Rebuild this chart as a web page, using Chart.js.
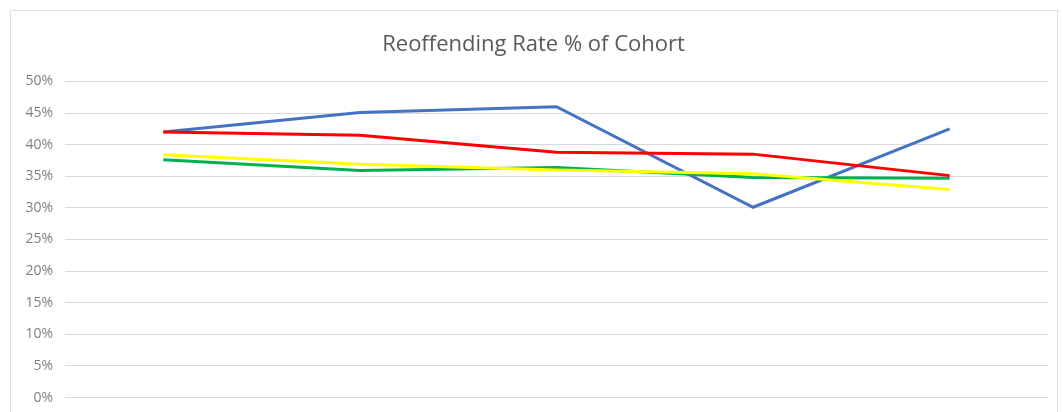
<!DOCTYPE html>
<html lang="en">
<head>
    <meta charset="UTF-8">
    <title>Reoffending Rate % of Cohort</title>
    <script src="https://cdn.jsdelivr.net/npm/chart.js"></script>
    <style>
        html, body { margin: 0; padding: 0; background: #fff; overflow: hidden; }
        #frame {
            position: absolute; left: 10px; top: 10px;
            width: 1048px; height: 430px;
            border: 1px solid #e0e0e0; box-sizing: border-box; background: #fff;
        }
        #chart { position: absolute; left: 0; top: 0; }
    </style>
</head>
<body>
<div id="frame">
    <canvas id="chart" width="1046" height="407"></canvas>
</div>
<script>
    // five cohorts, values in percent
    const cohorts = ['Cohort 1', 'Cohort 2', 'Cohort 3', 'Cohort 4', 'Cohort 5'];
    const blueSeries   = [42.0, 45.1, 46.0, 30.1, 42.5];
    const redSeries    = [42.0, 41.5, 38.8, 38.5, 35.1];
    const greenSeries  = [37.6, 35.9, 36.4, 34.8, 34.7];
    const yellowSeries = [38.4, 36.9, 36.0, 35.4, 32.9];
    const yTicks = [0, 5, 10, 15, 20, 25, 30, 35, 40, 45, 50];

    const line = (data, color, order) => ({
        data: data,
        borderColor: color,
        backgroundColor: color,
        borderWidth: 3,
        pointRadius: 0,
        tension: 0,
        fill: false,
        order: order
    });

    new Chart(document.getElementById('chart'), {
        type: 'line',
        data: {
            labels: cohorts,
            datasets: [
                line(blueSeries, '#4472C4', 3),
                line(greenSeries, '#00B050', 2),
                line(yellowSeries, '#FFFF00', 1),
                line(redSeries, '#FF0000', 0)
            ]
        },
        options: {
            responsive: false,
            animation: false,
            layout: { padding: { left: 8, right: 9, top: 0, bottom: 11 } },
            plugins: {
                legend: { display: false },
                tooltip: { enabled: false },
                title: {
                    display: true,
                    text: 'Reoffending Rate % of Cohort',
                    color: '#595959',
                    font: { family: 'Open Sans', size: 22, weight: 'normal' },
                    padding: { top: 21, bottom: 23 }
                }
            },
            scales: {
                x: {
                    display: false,
                    offset: true
                },
                y: {
                    min: 0,
                    max: 50,
                    afterFit: s => { s.width = 46; },
                    afterBuildTicks: s => { s.ticks = yTicks.map(v => ({ value: v })); },
                    border: { display: false },
                    grid: { color: '#d9d9d9', lineWidth: 1, drawTicks: false },
                    ticks: {
                        color: '#808080',
                        padding: 12,
                        font: { family: 'Open Sans', size: 14 },
                        callback: v => v + '%'
                    }
                }
            }
        }
    });
</script>
</body>
</html>
